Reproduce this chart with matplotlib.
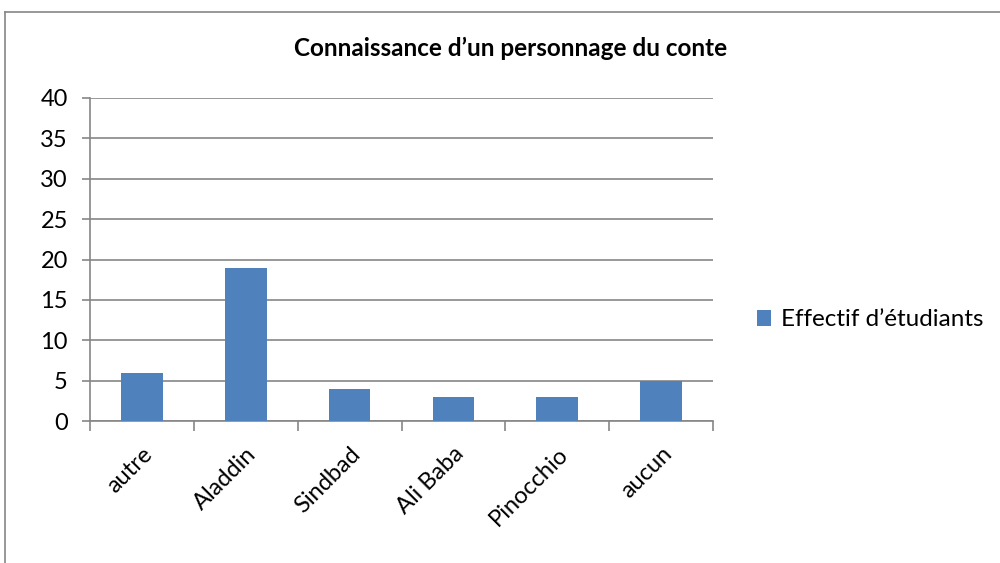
import matplotlib
matplotlib.use("Agg")
import matplotlib.pyplot as plt
from matplotlib.lines import Line2D

categories = ["autre", "Aladdin", "Sindbad", "Ali Baba", "Pinocchio", "aucun"]
values = [6, 19, 4, 3, 3, 5]
series_name = "Effectif d\u2019étudiants"
title = "Connaissance d\u2019un personnage du conte"
yticks = [0, 5, 10, 15, 20, 25, 30, 35, 40]

plt.rcParams['font.family'] = ['Lato', 'DejaVu Sans']

fig = plt.figure(figsize=(10, 5.63), dpi=100)
ax = fig.add_axes([0.09, 1 - 421/563, 0.713 - 0.09, (421 - 98)/563])

x = list(range(len(categories)))
bars = ax.bar(x, values, width=0.4, color="#4F81BD", label=series_name, zorder=3)
ax.set_xlim(-0.5, len(categories) - 0.5)
ax.set_ylim(0, 40)
ax.set_yticks(yticks)
ax.set_yticklabels([str(t) for t in yticks], fontsize=17)
ax.yaxis.grid(True, color="#868686", linewidth=1.2, zorder=0)
ax.set_axisbelow(True)

# category boundary ticks
ax.set_xticks([i - 0.5 for i in range(len(categories) + 1)], minor=False)
ax.set_xticklabels([])
ax.tick_params(axis='x', direction='out', length=7, color="#868686", width=1.2)
ax.tick_params(axis='y', direction='out', length=6, color="#868686", width=1.2, pad=10)
ax.set_xticks(x, minor=True)
ax.set_xticklabels(categories, minor=True, rotation=45, ha='right', rotation_mode='anchor', fontsize=17)
ax.tick_params(axis='x', which='minor', length=0, pad=16)

for s in ['top', 'right']:
    ax.spines[s].set_visible(False)
for s in ['left', 'bottom']:
    ax.spines[s].set_color("#868686")
    ax.spines[s].set_linewidth(1.2)

fig.text(0.511, 1 - 48/563, title, ha='center', va='center', fontsize=17.5, fontweight='bold')

leg = fig.legend(handles=[bars], labels=[series_name], loc='center left',
                 bbox_to_anchor=(0.752, 1 - 320/563), frameon=False, fontsize=17.5,
                 handlelength=0.6, handleheight=0.6, handletextpad=0.4, borderaxespad=0,
                 borderpad=0.2)

# outer chart border (partially visible)
fig.add_artist(Line2D([5/1000, 5/1000], [0, 1 - 12/563], transform=fig.transFigure, color="#868686", linewidth=1.2))
fig.add_artist(Line2D([5/1000, 1], [1 - 12/563, 1 - 12/563], transform=fig.transFigure, color="#868686", linewidth=1.2))

fig.savefig("out.png", dpi=100)
